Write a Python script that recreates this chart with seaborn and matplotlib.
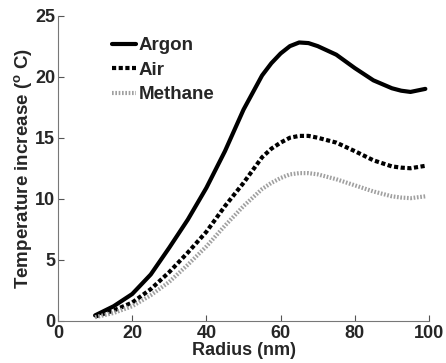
import pandas as pd
import seaborn as sns
import matplotlib.pyplot as plt

# Values
radius = [10, 15, 20, 25, 30, 35, 40, 45, 50, 55, 57.5, 60, 62.5, 65, 67.5, 70, 75, 80, 85, 90, 92.5, 95, 99]
argon = [0.45, 1.2, 2.2, 3.8, 6.0, 8.3, 10.9, 13.9, 17.3, 20.1, 21.1, 21.9, 22.5, 22.8, 22.75, 22.5,
         21.8, 20.7, 19.7, 19.05, 18.85, 18.75, 19.0]
air = [0.35, 0.85, 1.5, 2.6, 4.0, 5.6, 7.3, 9.4, 11.3, 13.4, 14.1, 14.6, 15.0, 15.15, 15.15, 15.0,
       14.6, 13.9, 13.15, 12.65, 12.55, 12.5, 12.7]
methane = [0.3, 0.65, 1.2, 2.1, 3.2, 4.6, 6.1, 7.8, 9.4, 10.8, 11.3, 11.7, 12.0, 12.1, 12.1, 12.0,
           11.6, 11.1, 10.6, 10.2, 10.1, 10.05, 10.2]

df = pd.DataFrame({'Radius': radius, 'Argon': argon, 'Air': air, 'Methane': methane})

sns.set_style('ticks')
plt.rcParams['font.family'] = ['Liberation Sans', 'DejaVu Sans']
plt.rcParams['mathtext.fontset'] = 'custom'
plt.rcParams['mathtext.rm'] = 'Liberation Sans'
plt.rcParams['mathtext.bf'] = 'Liberation Sans:bold'
plt.rcParams['xtick.direction'] = 'in'
plt.rcParams['ytick.direction'] = 'in'

fig = plt.figure(figsize=(4.46, 3.63), dpi=100)
ax = fig.add_axes([0.130, 0.116, 0.832, 0.841])

sns.lineplot(data=df, x='Radius', y='Argon', ax=ax, color='black', linewidth=3, label='Argon')
sns.lineplot(data=df, x='Radius', y='Air', ax=ax, color='black', linewidth=3,
             linestyle=(0, (1, 0.6)), label='Air')
sns.lineplot(data=df, x='Radius', y='Methane', ax=ax, color='#a0a0a0', linewidth=3,
             linestyle=(0, (0.4, 0.4)), label='Methane')

ax.set_xlim(0, 100)
ax.set_ylim(0, 25)
ax.set_xticks([0, 20, 40, 60, 80, 100])
ax.set_yticks([0, 5, 10, 15, 20, 25])
ax.tick_params(labelsize=13, length=4, width=0.8, color='#555555', pad=2)
ax.tick_params(axis='x', pad=3)
for lab in ax.get_xticklabels() + ax.get_yticklabels():
    lab.set_fontweight('bold')
sns.despine(ax=ax)
for s in ['left', 'bottom']:
    ax.spines[s].set_color('#777777')
    ax.spines[s].set_linewidth(0.8)

ax.set_xlabel('Radius (nm)', fontsize=13, fontweight='bold', labelpad=0)
ax.set_ylabel(r'Temperature increase ($^{\bf o}$ C)', fontsize=13.5, fontweight='bold', labelpad=0)

leg = ax.legend(loc='upper left', bbox_to_anchor=(0.145, 0.93), frameon=False,
                fontsize=13.5, handlelength=1.3, handletextpad=0.15, labelspacing=0.4,
                borderaxespad=0, borderpad=0)
for t in leg.get_texts():
    t.set_fontweight('bold')

fig.savefig('out.png', dpi=100)
